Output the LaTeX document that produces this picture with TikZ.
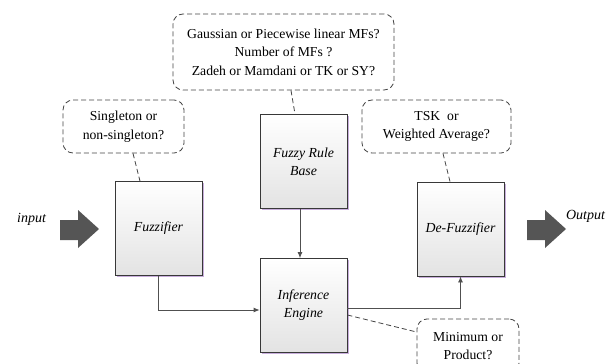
\documentclass[tikz,border=0pt]{standalone}
\usepackage{fontspec}
\setmainfont{Liberation Serif}
\usetikzlibrary{calc,shadows,arrows.meta}
\definecolor{boxline}{HTML}{383838}
\definecolor{dashline}{HTML}{454545}
\definecolor{conn}{HTML}{505050}
\definecolor{bigarrow}{HTML}{555555}
\definecolor{shadowc}{HTML}{C8AEDC}
\tikzset{
  blk/.style={draw=boxline, line width=0.8pt, top color=white, bottom color=gray!22,
    minimum width=87pt, minimum height=94pt, align=center, inner sep=2pt,
    font=\fontsize{13.8}{18}\selectfont\itshape,
    drop shadow={shadow xshift=1.5pt, shadow yshift=-1.5pt, fill=shadowc, opacity=1}},
  callout/.style={draw=dashline, line width=0.8pt, dash pattern=on 5pt off 3pt,
    rounded corners=10pt, align=center, inner sep=2pt,
    font=\fontsize{13.7}{18.5}\selectfont},
  conline/.style={draw=conn, line width=0.8pt, -{Latex[length=6pt,width=5pt]}},
  dashcon/.style={draw=dashline, line width=0.8pt, dash pattern=on 5pt off 3pt},
  lbl/.style={font=\fontsize{14}{17}\selectfont\itshape, inner sep=0pt}
}
\begin{document}
\begin{tikzpicture}[x=1pt,y=-1pt]
\useasboundingbox[fill=white] (0,0) rectangle (614,364);
% blocks
\node[blk] (fuzz) at (158.5,228.5) {Fuzzifier};
\node[blk] (rb) at (303.5,161.5) {Fuzzy Rule\\Base};
\node[blk] (inf) at (303.5,305.5) {Inference\\Engine};
\node[blk] (def) at (460.5,229) {De-Fuzzifier};
% callouts
\node[callout, minimum width=221pt, minimum height=76pt] (top) at (283.5,52)
  {Gaussian or Piecewise linear MFs?\\Number of MFs ?\\Zadeh or Mamdani or TK or SY?};
\node[callout, minimum width=121pt, minimum height=53pt] (sing) at (123.5,126.5)
  {Singleton or\\non-singleton?};
\node[callout, minimum width=149pt, minimum height=53pt] (tsk) at (436.5,126.5)
  {TSK\ \ or\\Weighted Average?};
\begin{scope}
\clip (0,0) rectangle (614,364);
\node[callout, minimum width=102pt, minimum height=54pt] (mini) at (468,346)
  {Minimum or\\Product?};
\end{scope}
% connectors
\draw[conline] (fuzz.south) |- ($(inf.west)+(0,4.5)$);
\draw[conline] ($(rb.south)+(-3.5,0)$) -- ($(inf.north)+(-3.5,0)$);
\draw[conline] ($(inf.east)+(0,2.5)$) -| (def.south);
% dashed callout links
\draw[dashcon] ($(top.south)+(7.5,0)$) -- ($(rb.north)+(-8.5,0)$);
\draw[dashcon] ($(sing.south)+(9.5,0)$) -- ($(fuzz.north)+(-18.5,0)$);
\draw[dashcon] ($(tsk.south)+(6.5,0)$) -- ($(def.north)+(-10.5,0)$);
\draw[dashcon] ($(inf.east)+(0,9.5)$) -- ($(mini.west)+(0,-14)$);
% big arrows
\fill[bigarrow] (60,220) -- (78,220) -- (78,210) -- (99,229) -- (78,248) -- (78,240) -- (60,240) -- cycle;
\fill[bigarrow] (527,220) -- (545,220) -- (545,210) -- (566,229) -- (545,248) -- (545,240) -- (527,240) -- cycle;
\node[lbl] (in) at (31.5,219) {input};
\node[lbl] (out) at (585.5,216) {Output};
\end{tikzpicture}
\end{document}
